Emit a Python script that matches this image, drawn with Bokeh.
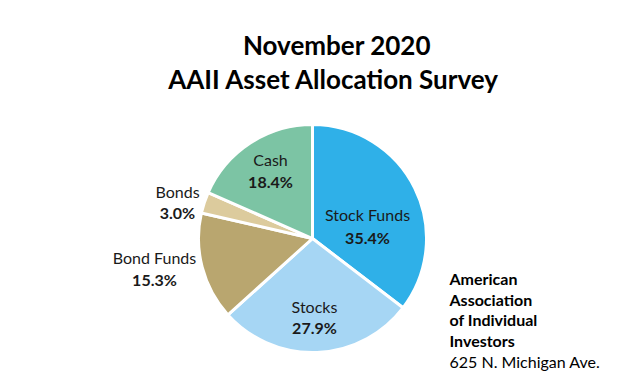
import math
from bokeh.plotting import figure
from bokeh.models import Range1d, ColumnDataSource
from bokeh.core.properties import value
from bokeh.embed import file_html
from bokeh.resources import INLINE

W, H = 623, 392

# ---- data ----
categories = ["Stock Funds", "Stocks", "Bond Funds", "Bonds", "Cash"]
shares = [35.4, 27.9, 15.3, 3.0, 18.4]
pct_labels = ["35.4%", "27.9%", "15.3%", "3.0%", "18.4%"]
title_lines = ["November 2020", "AAII Asset Allocation Survey"]
org_lines = ["American", "Association", "of Individual", "Investors"]
address = "625 N. Michigan Ave."

# ---- styling / layout ----
colors = ["#2fb0e8", "#a6d6f4", "#b9a66f", "#dccb9d", "#7cc4a4"]
cx, cy_screen, radius = 312, 238, 114
# label centers (screen coordinates): name line, pct line
name_pos = [(367, 214), (314, 306), (154, 257), (177, 191), (270, 159)]
pct_pos = [(367, 237), (314, 327), (154, 279), (177, 212), (270, 181)]

FONT = "Lato"

p = figure(width=W, height=H, output_backend="svg", toolbar_location=None,
           x_range=Range1d(0, W), y_range=Range1d(0, H), min_border=0)
p.axis.visible = False
p.grid.visible = False
p.outline_line_color = None
p.background_fill_color = "white"
p.border_fill_color = "white"

total = sum(shares)
starts, ends = [], []
cum = 0.0
for s in shares:
    starts.append(math.pi / 2 - 2 * math.pi * cum / total)
    cum += s
    ends.append(math.pi / 2 - 2 * math.pi * cum / total)

src = ColumnDataSource(dict(x=[cx] * len(shares), y=[H - cy_screen] * len(shares),
                            start=starts, end=ends, color=colors))
p.wedge(x="x", y="y", radius=radius, start_angle="start", end_angle="end",
        direction="clock", fill_color="color", line_color="white", line_width=3,
        source=src)

# slice labels
p.text(x=[q[0] for q in name_pos], y=[H - q[1] for q in name_pos], text=categories,
       text_font=value(FONT), text_font_size="16px", text_color="#1a1a1a",
       text_align="center", text_baseline="middle")
p.text(x=[q[0] for q in pct_pos], y=[H - q[1] for q in pct_pos], text=pct_labels,
       text_font=value(FONT), text_font_size="16px", text_font_style="bold",
       text_color="#1a1a1a", text_align="center", text_baseline="middle")

# title
p.text(x=[W / 2 + 25, W / 2 + 22], y=[H - 44, H - 78], text=title_lines,
       text_font=value(FONT), text_font_size="26px", text_font_style="bold",
       text_color="black", text_align="center", text_baseline="middle")

# organisation block
org_y = [278, 299, 319, 340]
p.text(x=[449] * len(org_lines), y=[H - v for v in org_y], text=org_lines,
       text_font=value(FONT), text_font_size="16px", text_font_style="bold",
       text_color="black", text_align="left", text_baseline="middle")
p.text(x=[449], y=[H - 361], text=[address],
       text_font=value(FONT), text_font_size="16px",
       text_color="black", text_align="left", text_baseline="middle")

open("out.html", "w").write(file_html(p, INLINE))
